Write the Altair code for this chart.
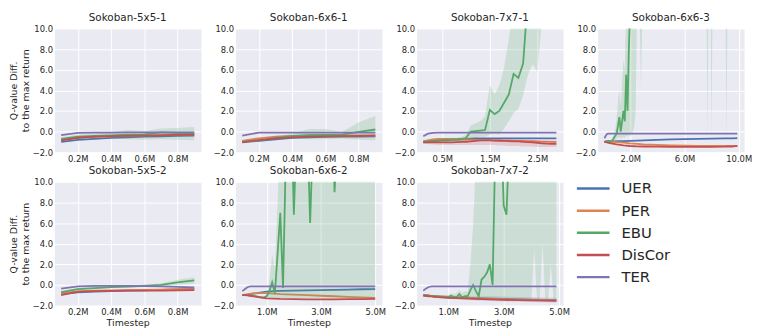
import altair as alt
import pandas as pd

SERIES = ["UER", "PER", "EBU", "DisCor", "TER"]
COLORS = ["#4C72B0", "#DD8452", "#55A868", "#C44E52", "#8172B3"]
Y_TICKS = [-2, 0, 2, 4, 6, 8, 10]

# ---------------- Sokoban-5x5-1 ----------------
x_small = [0.1, 0.2, 0.3, 0.4, 0.5, 0.6, 0.7, 0.8, 0.9]
p1_uer = [-1.0, -0.8, -0.7, -0.62, -0.56, -0.5, -0.46, -0.42, -0.4]
p1_per = [-0.85, -0.62, -0.52, -0.46, -0.41, -0.37, -0.33, -0.3, -0.27]
p1_ebu = [-0.7, -0.5, -0.42, -0.36, -0.3, -0.28, -0.08, -0.14, -0.18]
p1_dis = [-0.85, -0.6, -0.5, -0.45, -0.42, -0.4, -0.36, -0.32, -0.3]
p1_ter = [-0.35, -0.12, -0.1, -0.1, -0.08, -0.08, -0.08, -0.07, -0.07]
p1_ebu_lo = [-0.85, -0.7, -0.65, -0.65, -0.75, -0.8, -0.75, -0.8, -0.85]
p1_ebu_hi = [-0.55, -0.3, -0.2, -0.05, 0.15, 0.05, 0.3, 0.35, 0.45]

# ---------------- Sokoban-6x6-1 ----------------
p2_uer = [-1.0, -0.9, -0.75, -0.62, -0.56, -0.52, -0.5, -0.48, -0.46]
p2_per = [-0.9, -0.65, -0.5, -0.42, -0.38, -0.36, -0.36, -0.36, -0.36]
p2_ebu = [-1.0, -0.85, -0.62, -0.45, -0.35, -0.32, -0.3, -0.02, 0.2]
p2_dis = [-1.05, -0.82, -0.66, -0.56, -0.5, -0.46, -0.44, -0.42, -0.4]
p2_ter = [-0.4, -0.1, -0.1, -0.1, -0.1, -0.1, -0.1, -0.1, -0.1]
p2_ebu_lo = [-1.15, -1.0, -0.8, -0.7, -0.75, -0.75, -0.7, -0.8, -0.85]
p2_ebu_hi = [-0.85, -0.7, -0.45, -0.2, 0.25, 0.25, -0.05, 0.9, 1.5]

# ---------------- Sokoban-7x7-1 ----------------
x3 = [0.1, 0.2, 0.3, 0.4, 0.5, 0.6, 0.7, 0.8, 0.9, 1.0, 1.1, 1.2, 1.3, 1.4, 1.5,
      1.6, 1.7, 1.8, 1.9, 2.0, 2.1, 2.2, 2.3, 2.4, 2.5, 2.6, 2.7, 2.8, 2.9]
p3_ebu = [-1.0, -0.95, -0.9, -0.9, -0.85, -0.85, -0.8, -0.8, -0.75, -0.6, 0.0, 0.05, 0.1, 0.15, 2.1,
          1.7, 2.0, 2.8, 3.6, 5.6, 5.2, 6.6, 13, 16, 18, 20, 22, 24, 25]
p3_ebu_lo = [-1.1, -1.05, -1.0, -1.0, -1.0, -1.0, -0.95, -0.95, -0.95, -0.9, -0.7, -0.6, -0.5, -0.5, -0.3,
             -0.2, -0.3, 0.3, 1.0, 1.8, 2.2, 3.5, 5.5, 6.5, 5.8, 11, 12, 13, 14]
p3_ebu_hi = [-0.8, -0.8, -0.75, -0.75, -0.7, -0.65, -0.6, -0.6, -0.5, -0.3, 0.6, 0.8, 1.0, 1.5, 4.5,
             3.6, 4.5, 6.2, 9.0, 12, 14, 16, 20, 24, 28, 30, 32, 34, 36]
p3_ter = [-0.45, -0.2, -0.12, -0.1, -0.1, -0.1, -0.1, -0.1, -0.1, -0.1, -0.1, -0.1, -0.1, -0.1, -0.1,
          -0.1, -0.1, -0.1, -0.1, -0.1, -0.1, -0.1, -0.1, -0.1, -0.1, -0.1, -0.1, -0.1, -0.1]
p3_uer = [-1.0, -0.95, -0.9, -0.86, -0.82, -0.79, -0.76, -0.74, -0.72, -0.7, -0.68, -0.67, -0.66, -0.66, -0.65,
          -0.65, -0.65, -0.65, -0.65, -0.65, -0.65, -0.65, -0.65, -0.65, -0.65, -0.65, -0.65, -0.65, -0.65]
p3_per = [-0.95, -0.85, -0.76, -0.72, -0.7, -0.7, -0.72, -0.74, -0.75, -0.77, -0.79, -0.8, -0.82, -0.82, -0.84,
          -0.85, -0.86, -0.87, -0.88, -0.9, -0.9, -0.91, -0.92, -0.94, -0.95, -0.97, -0.98, -1.0, -1.0]
p3_dis = [-1.05, -1.05, -1.05, -1.05, -1.05, -1.05, -1.05, -1.03, -1.0, -1.0, -0.95, -0.9, -0.86, -0.85, -0.85,
          -0.87, -0.89, -0.9, -0.92, -0.95, -0.96, -1.0, -1.02, -1.05, -1.1, -1.14, -1.18, -1.2, -1.2]
p3_dis_lo = [-1.2, -1.2, -1.25, -1.3, -1.3, -1.3, -1.3, -1.3, -1.3, -1.3, -1.3, -1.3, -1.3, -1.3, -1.3,
             -1.3, -1.35, -1.35, -1.4, -1.4, -1.4, -1.45, -1.45, -1.45, -1.5, -1.5, -1.5, -1.5, -1.5]
p3_dis_hi = [-0.9, -0.9, -0.85, -0.8, -0.8, -0.8, -0.8, -0.8, -0.78, -0.75, -0.72, -0.7, -0.7, -0.7, -0.7,
             -0.7, -0.7, -0.72, -0.72, -0.75, -0.75, -0.78, -0.8, -0.82, -0.85, -0.88, -0.9, -0.9, -0.9]

# ---------------- Sokoban-6x6-3 ----------------
x4_ebu = [0.1, 0.2, 0.3, 0.4, 0.5, 0.6, 0.7, 0.8, 0.9, 1.0,
          1.1, 1.2, 1.3, 1.4, 1.5, 1.6, 1.7, 1.8, 1.9, 2.0,
          2.1, 2.2, 2.3, 2.4, 2.5, 2.6, 2.7, 2.8, 2.9, 3.0,
          3.5, 4.0, 4.5, 5.0, 5.5, 6.0, 6.5, 7.0, 7.5,
          7.6, 7.7, 7.8, 7.9, 8.0, 8.1, 8.5, 9.0, 9.1, 9.2, 9.5, 9.9]
p4_ebu = [-1.0, -0.95, -0.95, -0.9, -0.95, -0.9, -0.85, -0.6, -0.4, -0.2,
          0.6, 1.4, 0.0, 1.0, 2.0, 1.0, 5.5, 2.0, 8.0, 12,
          15, 18, 20, 22, 24, 25, 26, 26, 27, 27,
          28, 28, 29, 29, 30, 30, 30, 30, 30,
          30, 30, 30, 30, 30, 30, 30, 30, 30, 30, 30, 30]
p4_ebu_lo = [-1.1, -1.05, -1.05, -1.0, -1.05, -1.0, -1.0, -0.9, -0.8, -0.7,
             -0.6, -0.5, -0.7, -0.6, -0.5, -0.6, -0.4, -0.5, -0.3, -0.5,
             -0.3, 0.0, 0.5, 2.0, 11, 11, 11, 4.0, 12, 14,
             15, 15, 16, 16, 17, 17, 18, 18, 18,
             18, -1.0, 18, 18, -0.5, 18, 18, 18, -1.2, 18, 18, 18]
p4_ebu_hi = [-0.85, -0.85, -0.85, -0.8, -0.85, -0.8, -0.7, -0.3, 0.3, 1.2,
             3.0, 4.0, 2.5, 5.0, 7.0, 6.0, 12, 10.5, 15, 20,
             25, 28, 30, 32, 34, 36, 38, 40, 40, 40,
             40, 40, 40, 40, 40, 40, 40, 40, 40,
             40, 40, 40, 40, 40, 40, 40, 40, 40, 40, 40, 40]
x4 = [0.1, 0.2, 0.3, 0.4, 0.6, 0.8, 1.0, 1.5, 2.0, 2.5, 3.0, 4.0, 5.0, 6.0, 7.0, 8.0, 9.0, 9.5, 9.9]
p4_ter = [-0.65, -0.4, -0.22, -0.2, -0.2, -0.2, -0.2, -0.2, -0.2, -0.2, -0.2, -0.2, -0.2, -0.2, -0.2, -0.2, -0.2, -0.2, -0.2]
p4_uer = [-1.0, -0.97, -0.95, -0.95, -0.95, -0.95, -0.94, -0.92, -0.9, -0.87, -0.85, -0.8, -0.76, -0.73, -0.7, -0.68, -0.66, -0.65, -0.64]
p4_per = [-1.0, -1.0, -1.0, -1.0, -1.0, -1.0, -1.02, -1.08, -1.15, -1.2, -1.25, -1.3, -1.33, -1.36, -1.38, -1.4, -1.4, -1.4, -1.4]
p4_dis = [-1.0, -1.03, -1.06, -1.1, -1.15, -1.2, -1.25, -1.35, -1.4, -1.43, -1.45, -1.47, -1.48, -1.48, -1.48, -1.48, -1.47, -1.45, -1.38]

# ---------------- Sokoban-5x5-2 ----------------
p5_uer = [-0.9, -0.72, -0.66, -0.6, -0.56, -0.52, -0.48, -0.44, -0.4]
p5_per = [-0.8, -0.62, -0.56, -0.52, -0.5, -0.48, -0.45, -0.42, -0.4]
p5_ebu = [-0.7, -0.4, -0.3, -0.22, -0.16, -0.1, 0.0, 0.25, 0.45]
p5_dis = [-1.0, -0.65, -0.6, -0.58, -0.56, -0.55, -0.55, -0.52, -0.5]
p5_ter = [-0.35, -0.15, -0.1, -0.1, -0.1, -0.12, -0.15, -0.2, -0.25]
p5_ebu_lo = [-0.8, -0.5, -0.4, -0.3, -0.26, -0.2, -0.15, 0.0, 0.15]
p5_ebu_hi = [-0.6, -0.3, -0.2, -0.12, -0.05, 0.05, 0.15, 0.5, 0.75]

# ---------------- Sokoban-6x6-2 ----------------
x6_ebu = [0.1, 0.2, 0.3, 0.4, 0.5, 0.6, 0.7, 0.8, 0.9, 1.0,
          1.1, 1.2, 1.3, 1.4, 1.5, 1.6, 1.7, 1.8, 1.9, 2.0,
          2.1, 2.2, 2.3, 2.4, 2.5, 2.6, 2.7, 2.8, 2.9, 3.0,
          3.1, 3.2, 3.3, 3.4, 3.5, 3.6, 3.7, 3.8, 3.9, 4.0,
          4.1, 4.2, 4.3, 4.4, 4.5, 4.6, 4.7, 4.8, 4.9, 5.0]
p6_ebu = [-1.0, -1.0, -1.0, -1.05, -1.05, -1.1, -1.15, -1.2, -1.2, -1.1,
          -0.6, 0.25, -0.8, 3.0, 7.0, -0.3, 12, 20, 18, 6.8,
          15, 20, 20, 18, 15, 6.0, 14, 20, 20, 20,
          20, 20, 20, 18, 9.0, 14, 20, 20, 20, 20,
          20, 20, 20, 20, 20, 20, 20, 20, 20, 20]
p6_ebu_lo = [-1.1, -1.1, -1.1, -1.15, -1.15, -1.2, -1.25, -1.3, -1.3, -1.3,
             -1.3, -1.25, -1.3, -1.3, -1.3, -1.3, -1.3, -1.3, -1.3, -1.3,
             -1.3, -1.3, -1.3, -1.3, -1.3, -1.3, -1.3, -1.3, -1.3, -1.3,
             -1.32, -1.32, -1.32, -1.32, -1.32, -1.32, -1.32, -1.32, -1.32, -1.32,
             -1.35, -1.35, -1.35, -1.35, -1.35, -1.35, -1.35, -1.35, -1.35, -1.35]
p6_ebu_hi = [-0.9, -0.9, -0.9, -0.95, -0.95, -1.0, -1.05, -1.1, -1.1, -0.9,
             0.5, 3.0, 1.5, 8.0, 15, 12, 30, 40, 40, 40,
             40, 40, 40, 40, 40, 40, 40, 40, 40, 40,
             40, 40, 40, 40, 40, 40, 40, 40, 40, 40,
             40, 40, 40, 40, 40, 40, 40, 40, 40, 40]
x6 = [0.1, 0.2, 0.3, 0.4, 0.5, 0.75, 1.0, 1.25, 1.5, 2.0, 2.5, 3.0, 3.5, 4.0, 4.5, 5.0]
p6_ter = [-0.6, -0.4, -0.2, -0.15, -0.15, -0.15, -0.15, -0.15, -0.15, -0.15, -0.15, -0.15, -0.15, -0.15, -0.15, -0.15]
p6_uer = [-1.0, -0.98, -0.95, -0.9, -0.85, -0.75, -0.65, -0.6, -0.58, -0.55, -0.52, -0.5, -0.47, -0.45, -0.42, -0.4]
p6_per = [-1.0, -0.95, -0.9, -0.85, -0.82, -0.8, -0.8, -0.85, -0.9, -0.95, -1.0, -1.05, -1.1, -1.15, -1.2, -1.25]
p6_dis = [-1.0, -1.0, -1.02, -1.05, -1.1, -1.2, -1.3, -1.32, -1.35, -1.37, -1.4, -1.4, -1.4, -1.38, -1.37, -1.35]

# ---------------- Sokoban-7x7-2 ----------------
x7_ebu = [0.1, 0.2, 0.3, 0.4, 0.5, 0.6, 0.7, 0.8, 0.9, 1.0,
          1.1, 1.2, 1.3, 1.4, 1.5, 1.6, 1.7, 1.8, 1.9, 2.0,
          2.1, 2.2, 2.3, 2.4, 2.5, 2.6, 2.7, 2.8, 2.9, 3.0,
          3.1, 3.2, 3.3, 3.4, 3.5, 3.6, 3.7, 3.8, 3.9, 4.0,
          4.1, 4.2, 4.3, 4.4, 4.5, 4.6, 4.7, 4.8, 4.9]
p7_ebu = [-1.0, -1.02, -1.05, -1.08, -1.1, -1.12, -1.15, -1.15, -1.15, -1.18,
          -1.05, -1.15, -1.2, -0.9, -1.2, -1.1, -1.1, -0.5, 0.0, -0.6,
          -1.1, 0.5, 0.8, 1.2, 2.0, 0.0, 14, 20, 16, 7.7,
          6.8, 14, 20, 20, 20, 20, 20, 20, 20, 20,
          20, 20, 20, 20, 20, 20, 20, 20, 20]
p7_ebu_lo = [-1.1, -1.12, -1.15, -1.18, -1.2, -1.22, -1.25, -1.25, -1.25, -1.28,
             -1.25, -1.28, -1.3, -1.25, -1.3, -1.3, -1.3, -1.3, -1.3, -1.3,
             -1.3, -1.3, -1.3, -1.3, -1.3, -1.3, -1.3, -1.3, -1.3, -1.3,
             -1.35, -1.35, -1.35, -1.35, -1.35, -1.35, -1.35, -1.35, -1.35, -1.35,
             3.5, -1.4, -1.4, 4.0, -1.4, -1.4, 2.0, -1.45, -1.45]
p7_ebu_hi = [-0.9, -0.92, -0.95, -0.98, -1.0, -1.0, -1.0, -1.0, -1.0, -1.0,
             -0.8, -0.9, -0.8, -0.5, -0.8, -0.6, -0.7, 2.0, 6.0, 12,
             40, 40, 40, 40, 40, 40, 40, 40, 40, 40,
             40, 40, 40, 40, 40, 40, 40, 40, 40, 40,
             40, 40, 40, 40, 40, 40, 40, 40, 40]
x7 = [0.1, 0.2, 0.3, 0.4, 0.5, 0.75, 1.0, 1.5, 2.0, 2.5, 3.0, 3.5, 4.0, 4.5, 4.9]
p7_ter = [-0.55, -0.35, -0.2, -0.15, -0.15, -0.15, -0.15, -0.15, -0.15, -0.15, -0.15, -0.15, -0.15, -0.15, -0.15]
p7_uer = [-1.0, -1.02, -1.05, -1.08, -1.1, -1.15, -1.2, -1.25, -1.3, -1.33, -1.36, -1.4, -1.42, -1.45, -1.47]
p7_per = [-1.0, -1.02, -1.04, -1.06, -1.08, -1.12, -1.16, -1.22, -1.28, -1.33, -1.38, -1.42, -1.45, -1.48, -1.5]
p7_dis = [-1.05, -1.07, -1.1, -1.12, -1.15, -1.2, -1.25, -1.3, -1.35, -1.4, -1.45, -1.48, -1.5, -1.53, -1.55]
p7_uer_lo = [-1.1, -1.12, -1.15, -1.2, -1.22, -1.3, -1.35, -1.42, -1.5, -1.55, -1.6, -1.62, -1.65, -1.68, -1.7]
p7_uer_hi = [-0.9, -0.92, -0.95, -0.96, -0.98, -1.0, -1.05, -1.08, -1.1, -1.11, -1.12, -1.18, -1.2, -1.22, -1.24]

PANELS = [
    dict(title="Sokoban-5x5-1", xdomain=[0.06, 0.94], xticks=[0.2, 0.4, 0.6, 0.8],
         lines={"UER": (x_small, p1_uer), "PER": (x_small, p1_per), "EBU": (x_small, p1_ebu),
                "DisCor": (x_small, p1_dis), "TER": (x_small, p1_ter)},
         bands={"EBU": (x_small, p1_ebu_lo, p1_ebu_hi)}),
    dict(title="Sokoban-6x6-1", xdomain=[0.06, 0.94], xticks=[0.2, 0.4, 0.6, 0.8],
         lines={"UER": (x_small, p2_uer), "PER": (x_small, p2_per), "EBU": (x_small, p2_ebu),
                "DisCor": (x_small, p2_dis), "TER": (x_small, p2_ter)},
         bands={"EBU": (x_small, p2_ebu_lo, p2_ebu_hi)}),
    dict(title="Sokoban-7x7-1", xdomain=[-0.04, 3.04], xticks=[0.5, 1.5, 2.5],
         lines={"UER": (x3, p3_uer), "PER": (x3, p3_per), "EBU": (x3, p3_ebu),
                "DisCor": (x3, p3_dis), "TER": (x3, p3_ter)},
         bands={"EBU": (x3, p3_ebu_lo, p3_ebu_hi), "DisCor": (x3, p3_dis_lo, p3_dis_hi)}),
    dict(title="Sokoban-6x6-3", xdomain=[-0.4, 10.4], xticks=[2.0, 6.0, 10.0],
         lines={"UER": (x4, p4_uer), "PER": (x4, p4_per), "EBU": (x4_ebu, p4_ebu),
                "DisCor": (x4, p4_dis), "TER": (x4, p4_ter)},
         bands={"EBU": (x4_ebu, p4_ebu_lo, p4_ebu_hi)}),
    dict(title="Sokoban-5x5-2", xdomain=[0.06, 0.94], xticks=[0.2, 0.4, 0.6, 0.8],
         lines={"UER": (x_small, p5_uer), "PER": (x_small, p5_per), "EBU": (x_small, p5_ebu),
                "DisCor": (x_small, p5_dis), "TER": (x_small, p5_ter)},
         bands={"EBU": (x_small, p5_ebu_lo, p5_ebu_hi)}),
    dict(title="Sokoban-6x6-2", xdomain=[-0.15, 5.25], xticks=[1.0, 3.0, 5.0],
         lines={"UER": (x6, p6_uer), "PER": (x6, p6_per), "EBU": (x6_ebu, p6_ebu),
                "DisCor": (x6, p6_dis), "TER": (x6, p6_ter)},
         bands={"EBU": (x6_ebu, p6_ebu_lo, p6_ebu_hi)}),
    dict(title="Sokoban-7x7-2", xdomain=[-0.14, 5.14], xticks=[1.0, 3.0, 5.0],
         lines={"UER": (x7, p7_uer), "PER": (x7, p7_per), "EBU": (x7_ebu, p7_ebu),
                "DisCor": (x7, p7_dis), "TER": (x7, p7_ter)},
         bands={"EBU": (x7_ebu, p7_ebu_lo, p7_ebu_hi), "UER": (x7, p7_uer_lo, p7_uer_hi)}),
]

W, H = 148, 125
TEXT = "#262626"


def make_panel(p, y_title, x_title):
    xs = alt.Scale(domain=p["xdomain"], nice=False, zero=False)
    ys = alt.Scale(domain=[-2, 10], nice=False, zero=False)
    xa = alt.Axis(values=p["xticks"], labelExpr="format(datum.value, '.1f') + 'M'",
                  title="Timestep" if x_title else None)
    ya = alt.Axis(values=Y_TICKS, format=".1f",
                  title=["Q-value Diff.", "to the max return"] if y_title else None)
    layers = []
    for s, c in zip(SERIES, COLORS):
        xv, yv = p["lines"][s]
        df = pd.DataFrame({"x": xv, "y": yv})
        layers.append(
            alt.Chart(df).mark_line(color=c, strokeWidth=1.8, clip=True).encode(
                x=alt.X("x:Q", scale=xs, axis=xa), y=alt.Y("y:Q", scale=ys, axis=ya)))
        if s in p["bands"]:
            bx, lo, hi = p["bands"][s]
            bdf = pd.DataFrame({"x": bx, "lo": lo, "hi": hi})
            layers.append(
                alt.Chart(bdf).mark_area(color=c, opacity=0.2, clip=True).encode(
                    x=alt.X("x:Q", scale=xs, axis=xa),
                    y=alt.Y("lo:Q", scale=ys, axis=ya), y2="hi:Q"))
    return alt.layer(*layers).properties(width=W, height=H, title=p["title"])


charts = [make_panel(p, y_title=(i in (0, 4)), x_title=(i >= 4)) for i, p in enumerate(PANELS)]

leg_df = pd.DataFrame({"series": SERIES})
leg_base = alt.Chart(leg_df).encode(
    y=alt.Y("series:N", sort=SERIES, axis=None, scale=alt.Scale(type="point", padding=0.3)))
leg_rules = leg_base.mark_rule(strokeWidth=2.5).encode(
    x=alt.value(-21), x2=alt.value(12),
    color=alt.Color("series:N", scale=alt.Scale(domain=SERIES, range=COLORS), legend=None))
leg_text = leg_base.mark_text(align="left", baseline="middle", fontSize=15, color=TEXT,
                              font="DejaVu Sans").encode(x=alt.value(24), text="series:N")
legend = alt.layer(leg_rules, leg_text).properties(
    width=100, height=103, title=" ",
    view=alt.ViewBackground(fill="transparent", stroke="transparent"))

row1 = alt.hconcat(*charts[:4], spacing=35, bounds="flush")
row2 = alt.hconcat(charts[4], charts[5], charts[6], legend, spacing=35, bounds="flush")

chart = alt.vconcat(row1, row2, spacing=3).properties(
    padding={"left": 0, "top": 3, "right": 0, "bottom": 0}
).configure(font="DejaVu Sans").configure_view(
    fill="#EAEAF2", stroke="transparent"
).configure_axis(
    domain=False, ticks=False, grid=True, gridColor="white", gridWidth=1,
    labelFont="DejaVu Sans", labelFontSize=8.5, labelColor=TEXT, labelPadding=2,
    titleFont="DejaVu Sans", titleFontSize=9.5, titleFontWeight="normal", titleColor=TEXT,
    titlePadding=2
).configure_title(
    font="DejaVu Sans", fontSize=10.5, fontWeight="normal", color=TEXT, offset=1, frame="group"
)

chart.save("out.html", embed_options={"renderer": "svg", "actions": False})
